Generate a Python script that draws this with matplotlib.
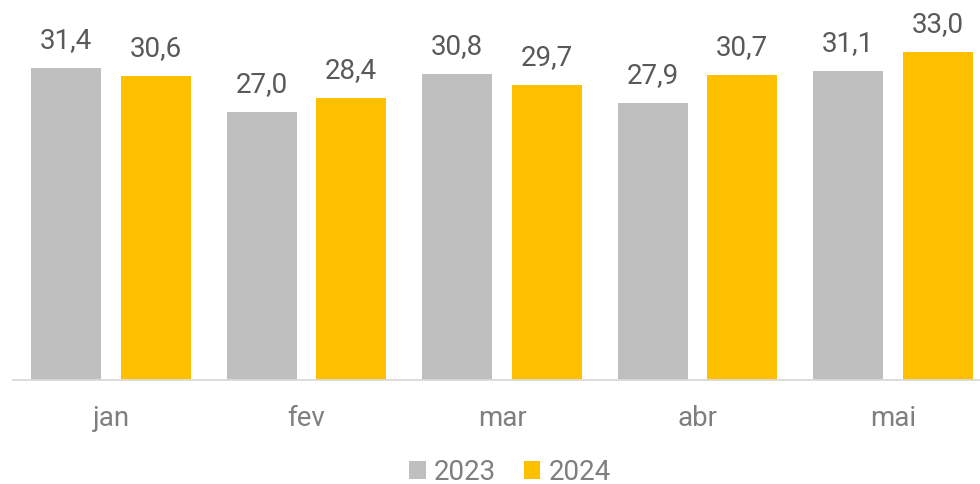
import matplotlib
matplotlib.use("Agg")
import matplotlib.pyplot as plt
import numpy as np
from matplotlib.patches import Patch

categories = ["jan", "fev", "mar", "abr", "mai"]
series_names = ["2023", "2024"]
values_2023 = [31.4, 27.0, 30.8, 27.9, 31.1]
values_2024 = [30.6, 28.4, 29.7, 30.7, 33.0]
colors = ["#BFBFBF", "#FFC000"]

plt.rcParams['font.family'] = ['Roboto', 'DejaVu Sans']

W, H = 980, 485
fig = plt.figure(figsize=(W / 100, H / 100), dpi=100)
left_px, right_px = 13.25, 990.75
base_px = 381
ax = fig.add_axes([left_px / W, (H - base_px) / H, (right_px - left_px) / W, base_px / H])

x = np.arange(len(categories))
bw = 0.358
off = 0.229
b1 = ax.bar(x - off, values_2023, bw, color=colors[0], zorder=2)
b2 = ax.bar(x + off, values_2024, bw, color=colors[1], zorder=2)

for bars, vals in ((b1, values_2023), (b2, values_2024)):
    for rect, v in zip(bars, vals):
        ax.annotate(f"{v:.1f}".replace(".", ","),
                    (rect.get_x() + rect.get_width() / 2, v),
                    xytext=(0, 11), textcoords="offset points",
                    ha="center", va="bottom", fontsize=20, color="#595959")

ax.set_xlim(-0.5, len(categories) - 0.5)
ax.set_ylim(0, base_px / 9.93)
ax.set_xticks(x)
ax.set_xticklabels(categories, fontsize=20, color="#7F7F7F")
ax.tick_params(axis="x", length=0, pad=17)
ax.set_yticks([])
for s in ("top", "right", "left"):
    ax.spines[s].set_visible(False)
ax.spines["bottom"].set_color("#D9D9D9")
ax.spines["bottom"].set_linewidth(1.3)
ax.patch.set_alpha(0)

handles = [Patch(facecolor=c, edgecolor="none") for c in colors]
leg = fig.legend(handles, series_names, loc="center", bbox_to_anchor=(510 / W, (H - 473) / H),
                 ncol=2, frameon=False, fontsize=20, handlelength=0.6, handleheight=0.6,
                 handletextpad=0.3, columnspacing=1.0, borderaxespad=0)
for t in leg.get_texts():
    t.set_color("#7F7F7F")

fig.savefig("out.png", dpi=100)
